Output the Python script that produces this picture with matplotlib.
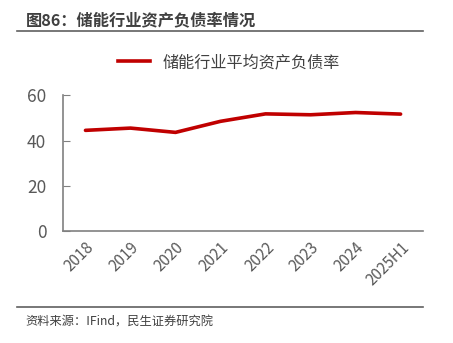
import matplotlib.pyplot as plt
from matplotlib.lines import Line2D

plt.rcParams['font.family'] = ['Noto Sans CJK SC', 'DejaVu Sans']

years = ["2018", "2019", "2020", "2021", "2022", "2023", "2024", "2025H1"]
debt_ratio = [44.5, 45.5, 43.6, 48.5, 51.8, 51.4, 52.4, 51.7]
yticks = [0, 20, 40, 60]

title = "图86：储能行业资产负债率情况"
legend_label = "储能行业平均资产负债率"
source = "资料来源：IFind，民生证券研究院"

fig = plt.figure(figsize=(4.53, 3.43), dpi=100)
ax = fig.add_axes([0.139, 0.327, 0.795, 0.395])

ax.plot(range(len(years)), debt_ratio, color="#C00000", lw=2.6, solid_capstyle="round")
ax.set_xlim(-0.5, len(years) - 0.5)
ax.set_ylim(0, 60)
ax.set_yticks(yticks)
ax.set_xticks(range(len(years)))
ax.set_xticklabels(years, rotation=45, ha="right", rotation_mode="anchor")

for s in ["top", "right"]:
    ax.spines[s].set_visible(False)
for s in ["left", "bottom"]:
    ax.spines[s].set_color("#808080")
    ax.spines[s].set_linewidth(1.2)
ax.tick_params(axis="y", direction="in", length=5, color="#808080",
               labelsize=12.5, labelcolor="#595959", pad=12)
ax.tick_params(axis="x", length=0, labelsize=11, labelcolor="#595959", pad=6)

handle = Line2D([], [], color="#C00000", lw=2.6)
fig.legend([handle], [legend_label], loc="center", bbox_to_anchor=(0.505, 0.818),
           frameon=False, fontsize=11.6, handlelength=2.0, labelcolor="#404040")

fig.text(0.057, 0.94, title, fontsize=11.7, fontweight="bold", color="#404040",
         va="center")
fig.add_artist(Line2D([0.037, 0.934], [0.909, 0.909], color="#606060", lw=1.2))
fig.add_artist(Line2D([0.037, 0.934], [0.104, 0.104], color="#606060", lw=1.2))
fig.text(0.055, 0.06, source, fontsize=8.8, color="#404040", va="center")

fig.savefig("out.png", dpi=100)
